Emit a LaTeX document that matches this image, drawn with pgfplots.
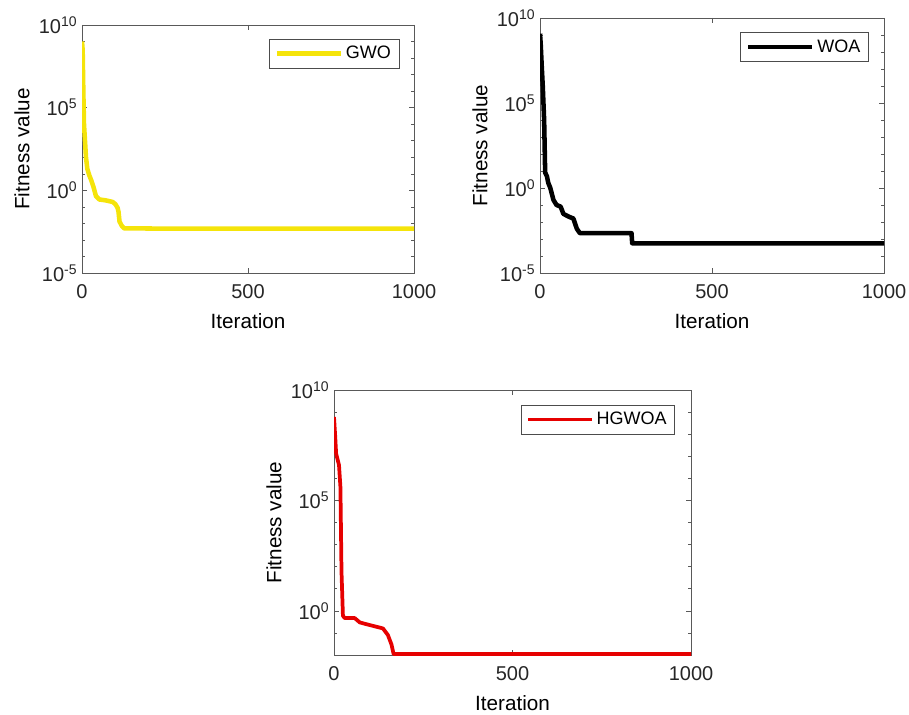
\documentclass[border=0pt]{standalone}
\usepackage{fontspec}
\setmainfont{Liberation Sans}
\usepackage{pgfplots}
\pgfplotsset{compat=1.18}

\definecolor{gwoyellow}{RGB}{245,228,10}
\definecolor{hgred}{RGB}{230,0,0}

\pgfplotsset{
  fitplot/.style={
    scale only axis,
    anchor=south west,
    xmin=0, xmax=1000,
    xtick={0,500,1000},
    axis line style={black!65},
    tick style={black!65, thin},
    major tick length=4pt,
    minor tick length=2.5pt,
    /pgf/number format/assume math mode=true,
    /pgf/number format/1000 sep={},
    tick label style={font=\fontsize{15}{17}\selectfont, black!85},
    xticklabel style={yshift=-5pt},
    label style={font=\fontsize{15.5}{18}\selectfont},
    xlabel style={yshift=-4pt},
    xlabel=Iteration,
    ylabel=Fitness value,
    legend style={at={(0.955,0.945)}, anchor=north east, draw=black!70,
      font=\fontsize{13.5}{15}\selectfont, inner xsep=4pt, inner ysep=3.5pt},
    legend image code/.code={\draw[##1] (0pt,0pt) -- (48pt,0pt);},
    ytick={1e-5,1,1e5,1e10},
    yticklabels={10\textsuperscript{-5},10\textsuperscript{0},10\textsuperscript{5},10\textsuperscript{10}},
    minor ytick={1e-4,1e-3,1e-2,1e-1,1e1,1e2,1e3,1e4,1e6,1e7,1e8,1e9},
  }
}

\begin{document}
\begin{tikzpicture}
\useasboundingbox (0,0) rectangle (681.75pt,535.5pt);

% GWO
\begin{semilogyaxis}[fitplot, at={(61.5pt,330.75pt)}, width=249pt, height=186pt,
  ymin=1e-5, ymax=1e10]
\addplot[gwoyellow, line width=3.4pt, line join=round] coordinates {
 (0,1e9) (2,3e8) (4,1e6) (6,1e4) (9,1e3) (12,100) (16,20) (22,8) (28,4)
 (35,1.5) (42,0.45) (52,0.28) (70,0.25) (92,0.2) (100,0.15) (107,0.09)
 (110,0.05) (113,0.013) (120,0.007) (127,0.005) (300,0.0048) (1000,0.0048)};
\addlegendentry{GWO}
\end{semilogyaxis}

% WOA
\begin{semilogyaxis}[fitplot, at={(405pt,330.75pt)}, width=258pt, height=191.25pt,
  ymin=1e-5, ymax=1e10]
\addplot[black, line width=3.4pt, line join=round] coordinates {
 (0,1.2e9) (2,3e8) (5,1.5e7) (8,1e6) (12,1e4) (15,8) (20,5) (24,2) (30,1)
 (39,0.2) (48,0.1) (60,0.08) (68,0.03) (85,0.02) (97,0.016) (107,0.004)
 (116,0.0022) (266,0.0022) (268,0.00056) (1000,0.00056)};
\addlegendentry{WOA}
\end{semilogyaxis}

% HGWOA
\begin{semilogyaxis}[fitplot, at={(250.5pt,44.25pt)}, width=267.75pt, height=198.75pt,
  ymin=1e-2, ymax=1e10]
\addplot[hgred, line width=2.8pt, line join=round] coordinates {
 (0,6e8) (3,1e8) (6,1.3e7) (14,4e6) (18,4e5) (21,60) (25,0.6) (30,0.47)
 (58,0.47) (72,0.3) (90,0.25) (137,0.16) (151,0.08) (161,0.03) (167,0.011)
 (1000,0.011)};
\addlegendentry{HGWOA}
\end{semilogyaxis}
\end{tikzpicture}
\end{document}
